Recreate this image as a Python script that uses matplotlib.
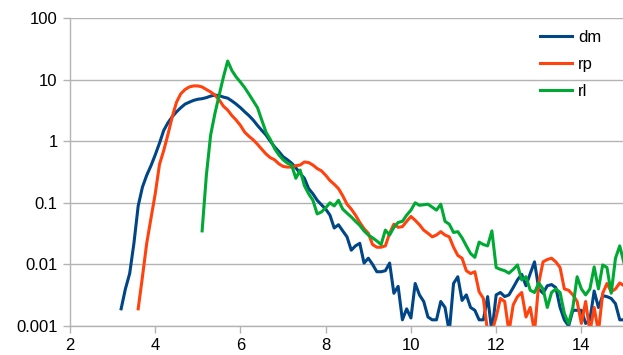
import numpy as np
import matplotlib
matplotlib.use("Agg")
import matplotlib.pyplot as plt

# ---- data ----
dm_x0, rp_x0, rl_x0, step = 3.2, 3.6, 5.1, 0.1

dm = [0.0019, 0.004, 0.0071, 0.022, 0.089, 0.18, 0.28, 0.4, 0.6, 0.93,
      1.5, 2.0, 2.5, 3.0, 3.5, 4.0, 4.3, 4.6, 4.8, 4.9,
      5.1, 5.4, 5.6, 5.5, 5.2, 5.0, 4.5, 4.0, 3.5, 3.0,
      2.6, 2.2, 1.8, 1.5, 1.26, 1.0, 0.81, 0.68, 0.56, 0.5,
      0.44, 0.37, 0.3, 0.25, 0.17, 0.14, 0.11, 0.093, 0.079, 0.063,
      0.039, 0.044, 0.035, 0.028, 0.017, 0.02, 0.022, 0.0105, 0.0126, 0.01,
      0.0076, 0.0076, 0.0079, 0.0105, 0.0034, 0.0044, 0.00126, 0.0019, 0.00135, 0.0049,
      0.0032, 0.0025, 0.0014, 0.00126, 0.00126, 0.0025, 0.002, 0.0008, 0.0049, 0.0063,
      0.0026, 0.0032, 0.002, 0.0018, 0.00126, 0.00126, 0.003, 0.0008, 0.0032, 0.0035,
      0.003, 0.0032, 0.0042, 0.0056, 0.0069, 0.0045, 0.0071, 0.011, 0.004, 0.0034,
      0.0045, 0.0047, 0.0042, 0.002, 0.00126, 0.001, 0.0018, 0.0018, 0.0018, 0.0011,
      0.00126, 0.0037, 0.002, 0.0031, 0.003, 0.0028, 0.0023, 0.00126, 0.00126]

rp = [0.0019, 0.0063, 0.022, 0.056, 0.14, 0.42, 0.71, 1.3, 2.5, 4.3,
      5.9, 6.9, 7.6, 7.9, 7.9, 7.6, 6.9, 6.3, 5.6, 4.7,
      3.7, 3.2, 2.6, 2.2, 1.8, 1.4, 1.2, 1.05, 0.89, 0.74,
      0.62, 0.54, 0.5, 0.43, 0.39, 0.38, 0.38, 0.4, 0.41, 0.46,
      0.45, 0.41, 0.36, 0.33, 0.28, 0.23, 0.2, 0.17, 0.13, 0.095,
      0.079, 0.063, 0.048, 0.038, 0.032, 0.021, 0.019, 0.019, 0.02, 0.032,
      0.045, 0.04, 0.041, 0.05, 0.06, 0.052, 0.044, 0.036, 0.032, 0.028,
      0.03, 0.034, 0.03, 0.028, 0.019, 0.014, 0.0126, 0.0079, 0.0071, 0.0076,
      0.0036, 0.0028, 0.0008, 0.0008, 0.0014, 0.0028, 0.0025, 0.0008, 0.0022, 0.003,
      0.0035, 0.0014, 0.002, 0.0008, 0.005, 0.011, 0.012, 0.0126, 0.011, 0.0089,
      0.004, 0.0038, 0.0032, 0.0025, 0.0011, 0.0025, 0.0008, 0.002, 0.0008, 0.0034,
      0.0049, 0.0036, 0.004, 0.005, 0.0045]

rl = [0.035, 0.28, 1.26, 2.8, 5.6, 11, 20, 14, 11, 9.1,
      7.4, 5.8, 4.5, 3.5, 2.2, 1.4, 1.07, 0.76, 0.6, 0.5,
      0.44, 0.41, 0.25, 0.34, 0.19, 0.14, 0.11, 0.066, 0.071, 0.083,
      0.1, 0.089, 0.11, 0.079, 0.068, 0.059, 0.05, 0.043, 0.035, 0.03,
      0.027, 0.024, 0.021, 0.036, 0.03, 0.04, 0.048, 0.05, 0.063, 0.076,
      0.1, 0.091, 0.093, 0.095, 0.085, 0.076, 0.095, 0.05, 0.045, 0.033,
      0.034, 0.027, 0.02, 0.015, 0.013, 0.023, 0.021, 0.02, 0.035, 0.0089,
      0.0083, 0.0079, 0.0072, 0.0083, 0.0098, 0.0056, 0.0063, 0.0038, 0.0035, 0.005,
      0.004, 0.002, 0.0035, 0.004, 0.0035, 0.0016, 0.0011, 0.002, 0.0063, 0.004,
      0.0032, 0.004, 0.0091, 0.004, 0.0098, 0.0089, 0.0034, 0.0126, 0.02, 0.0105]

series_names = ["dm", "rp", "rl"]
x_ticks = [2, 4, 6, 8, 10, 12, 14]
y_ticks = [0.001, 0.01, 0.1, 1, 10, 100]
y_tick_labels = ["0.001", "0.01", "0.1", "1", "10", "100"]

colors = ["#004586", "#ff420e", "#00a933"]

plt.rcParams['font.family'] = ['Liberation Sans', 'DejaVu Sans']

fig = plt.figure(figsize=(6.23, 3.55), dpi=100)
W, H = 623, 355
ax = fig.add_axes([70 / W, 29 / H, (624 - 70) / W, 308 / H])

for name, x0, vals, c in zip(series_names, [dm_x0, rp_x0, rl_x0], [dm, rp, rl], colors):
    xs = x0 + step * np.arange(len(vals))
    ax.plot(xs, vals, color=c, lw=2.2, label=name, solid_joinstyle='round')

ax.set_yscale('log')
ax.set_xlim(2, 15)
ax.set_ylim(0.001, 100)
ax.set_xticks(x_ticks)
ax.set_xticklabels([str(t) for t in x_ticks])
ax.set_yticks(y_ticks)
ax.set_yticklabels(y_tick_labels)
ax.yaxis.set_minor_locator(matplotlib.ticker.NullLocator())
ax.xaxis.set_minor_locator(matplotlib.ticker.NullLocator())

ax.grid(axis='y', color='#b3b3b3', lw=1.0)
ax.set_axisbelow(True)
for s in ['top', 'right']:
    ax.spines[s].set_visible(False)
for s in ['left', 'bottom']:
    ax.spines[s].set_color('#b3b3b3')
    ax.spines[s].set_linewidth(1.0)
ax.tick_params(axis='both', colors='#b3b3b3', labelcolor='black', labelsize=12,
               length=5, width=1.0, direction='out')
ax.tick_params(axis='y', pad=4)
ax.tick_params(axis='x', pad=4)

leg = ax.legend(loc='upper right', bbox_to_anchor=(0.986, 1.01), frameon=False,
                fontsize=12, handlelength=1.9, handletextpad=0.35, labelspacing=0.72)

fig.savefig('out.png', dpi=100)
